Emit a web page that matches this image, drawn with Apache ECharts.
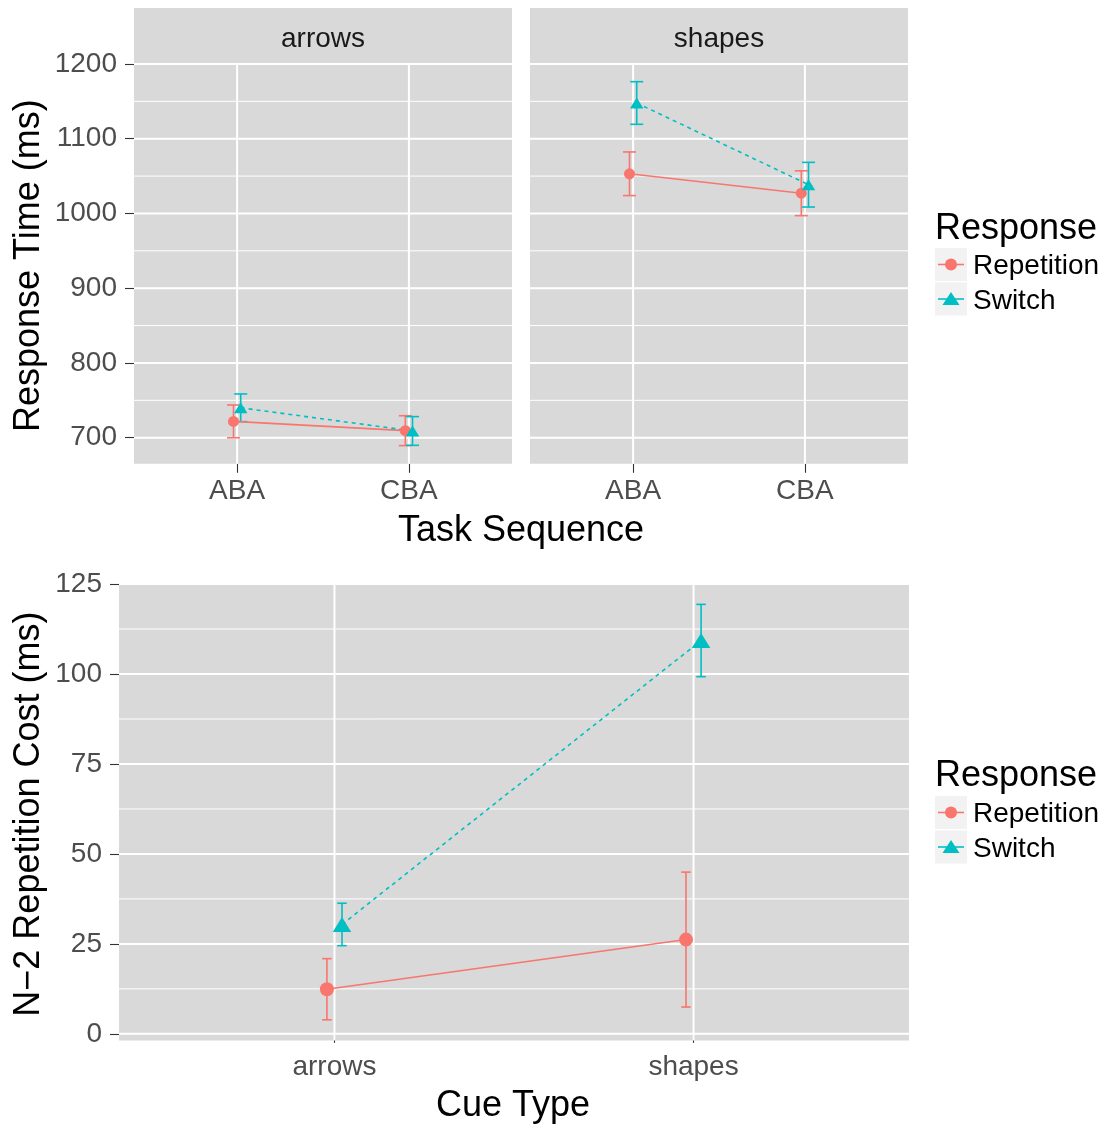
<!DOCTYPE html>
<html>
<head>
<meta charset="utf-8">
<script src="https://cdn.jsdelivr.net/npm/echarts@6/dist/echarts.min.js"></script>
<style>
  html, body { margin: 0; padding: 0; background: #fff; }
  #chart { width: 1106px; height: 1128px; }
</style>
</head>
<body>
<div id="chart"></div>
<script>
// ---- data ----
const cueTypes = ['arrows', 'shapes'];
const sequences = ['ABA', 'CBA'];
const responses = ['Repetition', 'Switch'];

// Response time (ms): means and error half-widths, one entry per task sequence
const rtArrowsRep = [721.8, 709.4];
const rtArrowsRepErr = [21.9, 20.0];
const rtArrowsSwitch = [740.0, 709.0];
const rtArrowsSwitchErr = [18.5, 19.2];
const rtShapesRep = [1053.1, 1027.1];
const rtShapesRepErr = [29.2, 30.0];
const rtShapesSwitch = [1147.8, 1038.5];
const rtShapesSwitchErr = [28.5, 29.9];

// N-2 repetition cost (ms): one entry per cue type
const costRep = [12.4, 26.2];
const costRepErr = [8.5, 18.75];
const costSwitch = [30.4, 109.3];
const costSwitchErr = [5.9, 10.05];

const rtTicks = [700, 800, 900, 1000, 1100, 1200];
const costTicks = [0, 25, 50, 75, 100, 125];

// ---- styling ----
const COLORS = { Repetition: '#F8766D', Switch: '#00BFC4' };
const FONT = '"Liberation Sans", Arial, Helvetica, sans-serif';
const PANEL_BG = '#D9D9D9';
const SMALL = 28, LARGE = 36;
const DODGE = 0.021;
const X_MIN = 0.4, X_MAX = 2.6;

// continuous range expanded by 5% on each side
function expandedRange(groups) {
  let lo = Infinity, hi = -Infinity;
  groups.forEach(([m, e]) => m.forEach((v, i) => {
    lo = Math.min(lo, v - e[i]);
    hi = Math.max(hi, v + e[i]);
  }));
  const pad = (hi - lo) * 0.05;
  return [lo - pad, hi + pad];
}
const rtRange = expandedRange([
  [rtArrowsRep, rtArrowsRepErr], [rtArrowsSwitch, rtArrowsSwitchErr],
  [rtShapesRep, rtShapesRepErr], [rtShapesSwitch, rtShapesSwitchErr]
]);
const costRange = expandedRange([[costRep, costRepErr], [costSwitch, costSwitchErr]]);

function midpoints(ticks) {
  const out = [];
  for (let i = 0; i + 1 < ticks.length; i++) out.push((ticks[i] + ticks[i + 1]) / 2);
  return out;
}

const offsets = { Repetition: -DODGE, Switch: DODGE };

function pointData(means, resp) {
  return means.map((v, i) => [i + 1 + offsets[resp], v]);
}
function barData(means, errs, resp) {
  return means.map((v, i) => [i + 1 + offsets[resp], v - errs[i], v + errs[i]]);
}

// gridlines drawn inside each panel
function gridSeries(gridIdx, hValues, vValues, width) {
  const data = [];
  hValues.forEach(v => data.push([1.5, v, 0, width]));
  vValues.forEach(v => data.push([v, 0, 1, width]));
  return {
    type: 'custom', xAxisIndex: gridIdx, yAxisIndex: gridIdx, silent: true, z: 1,
    clip: false,
    encode: { x: 0, y: 1 },
    data,
    renderItem(params, api) {
      const cs = params.coordSys;
      const w = api.value(3);
      if (api.value(2) === 0) {
        const y = api.coord([X_MIN, api.value(1)])[1];
        return { type: 'line', shape: { x1: cs.x, y1: y, x2: cs.x + cs.width, y2: y },
          style: { stroke: '#FFFFFF', lineWidth: w } };
      }
      const x = api.coord([api.value(0), 0])[0];
      return { type: 'line', shape: { x1: x, y1: cs.y, x2: x, y2: cs.y + cs.height },
        style: { stroke: '#FFFFFF', lineWidth: w } };
    }
  };
}

function errorSeries(gridIdx, means, errs, resp, capPx) {
  return {
    type: 'custom', xAxisIndex: gridIdx, yAxisIndex: gridIdx, z: 3, silent: true,
    itemStyle: { color: COLORS[resp] },
    encode: { x: 0, y: [1, 2] },
    data: barData(means, errs, resp),
    renderItem(params, api) {
      const x = api.value(0);
      const lo = api.coord([x, api.value(1)]);
      const hi = api.coord([x, api.value(2)]);
      const style = { stroke: COLORS[resp], lineWidth: 1.6 };
      const h = capPx / 2;
      return { type: 'group', children: [
        { type: 'line', shape: { x1: lo[0], y1: lo[1], x2: hi[0], y2: hi[1] }, style },
        { type: 'line', shape: { x1: hi[0] - h, y1: hi[1], x2: hi[0] + h, y2: hi[1] }, style },
        { type: 'line', shape: { x1: lo[0] - h, y1: lo[1], x2: lo[0] + h, y2: lo[1] }, style }
      ] };
    }
  };
}

function lineSeries(gridIdx, means, resp, big) {
  const isRep = resp === 'Repetition';
  return {
    type: 'line', name: resp, xAxisIndex: gridIdx, yAxisIndex: gridIdx, z: 4,
    data: pointData(means, resp),
    symbol: isRep ? 'circle' : 'triangle',
    symbolSize: isRep ? (big ? 14 : 11) : (big ? [18.5, 15] : [13.5, 11]),
    showSymbol: true, animation: false, silent: true,
    itemStyle: { color: COLORS[resp], opacity: 1 },
    lineStyle: { color: COLORS[resp], width: 1.6, type: isRep ? 'solid' : [4, 4] }
  };
}

const tickStyle = { show: true, length: 9, lineStyle: { color: '#333333', width: 1.1 } };
const labelStyle = { color: '#4D4D4D', fontSize: SMALL, fontFamily: FONT };

function xAxisFor(gridIdx, names, margin) {
  return {
    type: 'value', gridIndex: gridIdx, min: X_MIN, max: X_MAX,
    axisLine: { show: false },
    axisTick: Object.assign({ customValues: [1, 2] }, tickStyle),
    axisLabel: Object.assign({ customValues: [1, 2], margin,
      formatter: v => names[Math.round(v) - 1] }, labelStyle),
    splitLine: { show: false }
  };
}
function yAxisFor(gridIdx, range, ticks, margin) {
  return {
    type: 'value', gridIndex: gridIdx, min: range[0], max: range[1],
    axisLine: { show: false },
    axisTick: Object.assign({ customValues: ticks }, tickStyle),
    axisLabel: Object.assign({ customValues: ticks, margin, padding: [7, 0, 0, 0],
      formatter: v => String(Math.round(v)) }, labelStyle),
    splitLine: { show: false }
  };
}
// right facet shares the left axis: no ticks or labels
function hideY(axis) {
  axis.axisTick.show = false;
  axis.axisLabel.show = false;
  return axis;
}

// panel geometry
const TOP_Y = 63.5, TOP_H = 400.3;
const grids = [
  { left: 134, top: TOP_Y, width: 378, height: TOP_H },
  { left: 530, top: TOP_Y, width: 378, height: TOP_H },
  { left: 119, top: 583.6, width: 790, height: 457 }
].map(g => Object.assign({ show: true, backgroundColor: PANEL_BG, borderWidth: 0, containLabel: false }, g));

const series = [
  gridSeries(0, rtTicks, [1, 2], 2), gridSeries(0, midpoints(rtTicks), [], 1),
  gridSeries(1, rtTicks, [1, 2], 2), gridSeries(1, midpoints(rtTicks), [], 1),
  gridSeries(2, costTicks, [1, 2], 2), gridSeries(2, midpoints(costTicks), [], 1),

  errorSeries(0, rtArrowsRep, rtArrowsRepErr, 'Repetition', 13),
  errorSeries(0, rtArrowsSwitch, rtArrowsSwitchErr, 'Switch', 13),
  lineSeries(0, rtArrowsRep, 'Repetition', false),
  lineSeries(0, rtArrowsSwitch, 'Switch', false),

  errorSeries(1, rtShapesRep, rtShapesRepErr, 'Repetition', 13),
  errorSeries(1, rtShapesSwitch, rtShapesSwitchErr, 'Switch', 13),
  lineSeries(1, rtShapesRep, 'Repetition', false),
  lineSeries(1, rtShapesSwitch, 'Switch', false),

  errorSeries(2, costRep, costRepErr, 'Repetition', 9.5),
  errorSeries(2, costSwitch, costSwitchErr, 'Switch', 9.5),
  lineSeries(2, costRep, 'Repetition', true),
  lineSeries(2, costSwitch, 'Switch', true)
];

// facet strips, axis titles and legends
const graphic = [];
[0, 1].forEach(i => {
  const g = grids[i];
  graphic.push({ type: 'rect', left: g.left, top: 8, z: 0,
    shape: { width: g.width, height: TOP_Y - 8 }, style: { fill: PANEL_BG } });
  graphic.push({ type: 'text', x: g.left + g.width / 2, y: 39, z: 5,
    style: { text: cueTypes[i], fill: '#1A1A1A', font: SMALL + 'px ' + FONT,
      textAlign: 'center', textVerticalAlign: 'middle' } });
});

function title(text, x, y, rotate) {
  graphic.push({ type: 'text', x, y, rotation: rotate ? Math.PI / 2 : 0, z: 5,
    style: { text, fill: '#000000', font: LARGE + 'px ' + FONT,
      textAlign: 'center', textVerticalAlign: 'middle' } });
}
title('Response Time (ms)', 29, TOP_Y + TOP_H / 2 + 2, true);
title('Task Sequence', 134 + (908 - 134) / 2, 531, false);
title('N\u22122 Repetition Cost (ms)', 29, 583.6 + 457 / 2 + 2, true);
title('Cue Type', 119 + 790 / 2 - 1, 1106, false);

function legend(titleY, rowTop) {
  graphic.push({ type: 'text', x: 935, y: titleY, z: 5,
    style: { text: 'Response', fill: '#000000', font: LARGE + 'px ' + FONT,
      textAlign: 'left', textVerticalAlign: 'middle' } });
  responses.forEach((r, i) => {
    const top = rowTop + i * 34.5;
    const cy = top + 16.5;
    graphic.push({ type: 'rect', x: 935, y: top, z: 5,
      shape: { width: 32, height: 33 }, style: { fill: '#F2F2F2' } });
    graphic.push({ type: 'line', z: 6,
      shape: { x1: 938, y1: cy, x2: 964, y2: cy },
      style: { stroke: COLORS[r], lineWidth: 1.6 } });
    if (r === 'Repetition') {
      graphic.push({ type: 'circle', z: 7, shape: { cx: 951, cy, r: 6 },
        style: { fill: COLORS[r] } });
    } else {
      graphic.push({ type: 'polygon', z: 7,
        shape: { points: [[951, cy - 7], [959.5, cy + 6], [942.5, cy + 6]] },
        style: { fill: COLORS[r] } });
    }
    graphic.push({ type: 'text', x: 973, y: cy + 2, z: 7,
      style: { text: r, fill: '#000000', font: SMALL + 'px ' + FONT,
        textAlign: 'left', textVerticalAlign: 'middle' } });
  });
}
legend(229, 248);
legend(776, 796);

const chart = echarts.init(document.getElementById('chart'), null, { renderer: 'canvas' });
chart.setOption({
  animation: false,
  backgroundColor: '#FFFFFF',
  textStyle: { fontFamily: FONT },
  grid: grids,
  xAxis: [xAxisFor(0, sequences, 13), xAxisFor(1, sequences, 13), xAxisFor(2, cueTypes, 13)],
  yAxis: [yAxisFor(0, rtRange, rtTicks, 17), hideY(yAxisFor(1, rtRange, rtTicks, 17)),
          yAxisFor(2, costRange, costTicks, 17)],
  series,
  graphic
});
</script>
</body>
</html>
